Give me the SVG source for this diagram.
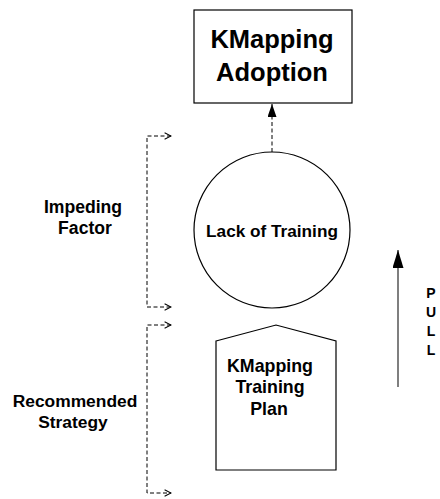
<svg xmlns="http://www.w3.org/2000/svg" width="440" height="499" viewBox="0 0 440 499">
<defs>
<style>
.t{font-family:"Liberation Sans",Arial,sans-serif;font-weight:bold;fill:#000;text-anchor:middle}
.s{fill:#fff;stroke:#000;stroke-width:1.2}
.d{fill:none;stroke:#000;stroke-width:1;stroke-dasharray:4 2.5}
</style>
<marker id="open" viewBox="0 0 10 10" refX="9" refY="5" markerWidth="8" markerHeight="8" markerUnits="userSpaceOnUse" orient="auto-start-reverse" preserveAspectRatio="none">
<path d="M1,1 L9,5 L1,9" fill="none" stroke="#000" stroke-width="1.3"/>
</marker>
<marker id="fill" viewBox="0 0 10 10" refX="10" refY="5" markerWidth="13" markerHeight="9" markerUnits="userSpaceOnUse" orient="auto" preserveAspectRatio="none">
<path d="M0,0 L10,5 L0,10 Z" fill="#000"/>
</marker>
<marker id="fillbig" viewBox="0 0 10 10" refX="10" refY="5" markerWidth="18" markerHeight="11" markerUnits="userSpaceOnUse" orient="auto" preserveAspectRatio="none">
<path d="M0,0 L10,5 L0,10 Z" fill="#000"/>
</marker>
</defs>
<rect width="440" height="499" fill="#fff"/>
<g id="connectors">
<path class="d" d="M272,152 V104" marker-end="url(#fill)"/>
<path class="d" d="M171,136 H147 V307 H171" marker-start="url(#open)" marker-end="url(#open)"/>
<path class="d" d="M171,325 H147 V493 H171" marker-start="url(#open)" marker-end="url(#open)"/>
<path d="M398,387 V250" stroke="#555" stroke-width="1.5" fill="none" marker-end="url(#fillbig)"/>
</g>
<g id="adoption">
<rect class="s" x="194" y="10" width="158" height="93"/>
<text class="t" x="272" y="48" font-size="25.5">KMapping</text>
<text class="t" x="272" y="81" font-size="25.5">Adoption</text>
</g>
<g id="lack">
<circle class="s" cx="272" cy="230" r="78"/>
<text class="t" x="272" y="237" font-size="17.2">Lack of Training</text>
</g>
<g id="plan">
<path class="s" d="M216,341 L276,325 L336,341 V470 H216 Z"/>
<text class="t" x="270" y="372" font-size="17.8">KMapping</text>
<text class="t" x="270" y="393" font-size="17.8">Training</text>
<text class="t" x="269" y="415" font-size="17.8">Plan</text>
</g>
<g id="impeding">
<text class="t" x="83" y="213" font-size="17.6">Impeding</text>
<text class="t" x="85" y="234" font-size="17.6">Factor</text>
</g>
<g id="recommended">
<text class="t" x="75" y="407" font-size="17.4">Recommended</text>
<text class="t" x="73" y="428" font-size="17.4">Strategy</text>
</g>
<g id="pull">
<text class="t" x="431" y="298" font-size="14">P</text>
<text class="t" x="431" y="317" font-size="14">U</text>
<text class="t" x="431" y="336" font-size="14">L</text>
<text class="t" x="431" y="355" font-size="14">L</text>
</g>
</svg>
